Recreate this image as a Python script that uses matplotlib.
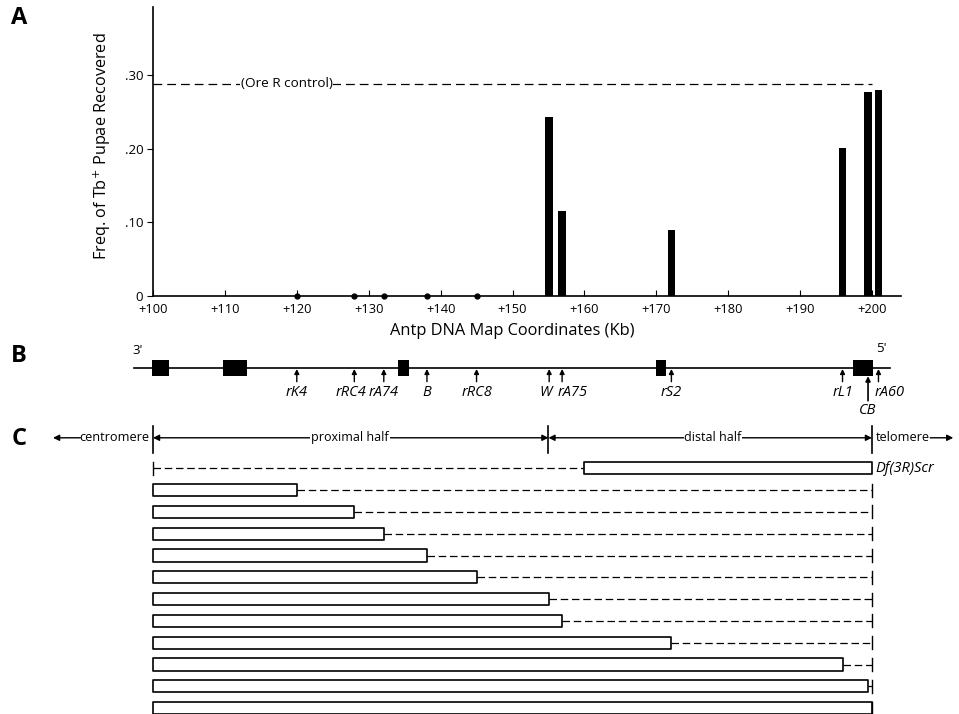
import matplotlib
matplotlib.use('Agg')
import matplotlib.pyplot as plt
import numpy as np

plt.rcParams['font.family'] = ['Open Sans', 'DejaVu Sans']

# breakpoint markers on the Antp map (kb) and Tb+ frequency for each
marker_names = ['rK4', 'rRC4', 'rA74', 'B', 'rRC8', 'W', 'rA75', 'rS2', 'rL1', 'CB', 'rA60']
marker_kb = [120, 128, 132.1, 138.1, 145, 155.1, 156.9, 172.1, 195.9, 199.45, 200.9]
freq = [0, 0, 0, 0, 0, 0.243, 0.115, 0.089, 0.201, 0.277, 0.279]
ore_r_control = 0.288

# exons on the map (start kb, length kb)
exons = [(99.8, 2.4), (109.8, 3.3), (134.1, 1.5), (170.0, 1.4), (197.3, 2.9)]

# deficiency rows: Df(3R)Scr deleted segment, then rows breaking at each marker
scr_deleted = (160, 200)
row_breaks = [min(k, 200) for k in marker_kb]

x_ticks = [100, 110, 120, 130, 140, 150, 160, 170, 180, 190, 200]
y_ticks = [0, 0.10, 0.20, 0.30]
y_ticklabels = ['0', '.10', '.20', '.30']

W, H = 959, 714
fig = plt.figure(figsize=(W / 100, H / 100), dpi=100)

px_per_kb = (872 - 153) / 100.0
x_left = 100 - 153 / px_per_kb
x_right = 100 + (W - 153) / px_per_kb

# ---------------- panel A ----------------
axA = fig.add_axes([153 / W, 1 - 296 / H, 748 / W, 289 / H])
axA.set_xlim(100, 100 + 748 / px_per_kb)
axA.set_ylim(0, 0.392)
for s in ['top', 'right']:
    axA.spines[s].set_visible(False)
axA.spines['left'].set_linewidth(1.2)
axA.spines['bottom'].set_linewidth(1.2)

kb = np.array(marker_kb)
fr = np.array(freq)
pos = fr > 0
axA.bar(kb[pos], fr[pos], width=1.05, color='black')
axA.plot(kb[~pos], fr[~pos], 'o', color='black', markersize=3.5, clip_on=False)

axA.plot([100, 200], [ore_r_control, ore_r_control], color='black', lw=0.9, dashes=(7, 4))
axA.text(118.6, ore_r_control, '(Ore R control)', ha='center', va='center', fontsize=9.7,
         bbox=dict(facecolor='white', edgecolor='none', pad=0.5))

axA.set_xticks(x_ticks)
axA.set_xticklabels(['+%d' % t for t in x_ticks], fontsize=9.3)
axA.tick_params(axis='x', direction='in', length=4, pad=5)
axA.set_yticks(y_ticks)
axA.set_yticklabels(y_ticklabels, fontsize=9.5)
axA.tick_params(axis='y', direction='out', length=4, pad=3)

axA.text(150, -0.12, 'Antp DNA Map Coordinates (Kb)', ha='center', va='center', fontsize=11.8,
         transform=matplotlib.transforms.blended_transform_factory(axA.transData, axA.transAxes))
axA.text(-0.068, 0.519, 'Freq. of Tb$^{+}$ Pupae Recovered', rotation=90, ha='center', va='center',
         fontsize=11.7, transform=axA.transAxes)

# ---------------- panel B ----------------
axB = fig.add_axes([0, 1 - 420 / H, 1, 85 / H])
axB.set_xlim(x_left, x_right)
axB.set_ylim(52.3, -32.7)
axB.axis('off')
axB.plot([97.3, 202.5], [0, 0], color='black', lw=1.2)
axB.broken_barh(exons, (-8, 16), facecolor='black')
label_shift = {'rRC4': -0.4, 'W': -0.5, 'rA75': 1.4, 'rA60': 1.6}
for name, x in zip(marker_names, marker_kb):
    lx = x + label_shift.get(name, 0)
    if name == 'CB':
        axB.annotate('', xy=(x, 8.5), xytext=(x, 33),
                     arrowprops=dict(arrowstyle='-|>', lw=1.2, mutation_scale=7, shrinkA=0, shrinkB=0, color='black'))
        axB.text(lx, 42.3, name, ha='center', va='center', fontsize=10.5, style='italic')
    else:
        axB.annotate('', xy=(x, 1.3), xytext=(x, 14),
                     arrowprops=dict(arrowstyle='-|>', lw=1, mutation_scale=7, shrinkA=0, shrinkB=0, color='black'))
        axB.text(lx, 25.3, name, ha='center', va='center', fontsize=10.5, style='italic')
axB.text(97.8, -17, "3'", ha='center', va='center', fontsize=9.5)
axB.text(201.25, -18.7, "5'", ha='center', va='center', fontsize=9.5)

# ---------------- panel C ----------------
axC = fig.add_axes([0, 0, 1, 294 / H])
axC.set_xlim(x_left, x_right)
axC.set_ylim(11.27, -2.216)
axC.axis('off')

hy = -1.4
arw = dict(lw=1, mutation_scale=9, shrinkA=0, shrinkB=0, color='black')
axC.annotate('', xy=(100, hy), xytext=(155, hy), arrowprops=dict(arrowstyle='<|-|>', **arw))
axC.annotate('', xy=(155, hy), xytext=(200, hy), arrowprops=dict(arrowstyle='<|-|>', **arw))
axC.annotate('', xy=(86.1, hy), xytext=(89.9, hy), arrowprops=dict(arrowstyle='-|>', **arw))
axC.annotate('', xy=(211.3, hy), xytext=(208.1, hy), arrowprops=dict(arrowstyle='-|>', **arw))
axC.text(94.6, hy, 'centromere', ha='center', va='center', fontsize=9.2)
axC.text(204.3, hy, 'telomere', ha='center', va='center', fontsize=9.2)
axC.text(127.4, hy, 'proximal half', ha='center', va='center', fontsize=9,
         bbox=dict(facecolor='white', edgecolor='none', pad=0.5))
axC.text(177.9, hy, 'distal half', ha='center', va='center', fontsize=9,
         bbox=dict(facecolor='white', edgecolor='none', pad=0.5))
for x in [100, 155, 200]:
    axC.plot([x, x], [-1.95, -0.71], color='black', lw=1.2)

bh = 0.56
dash = dict(color='black', lw=0.9, dashes=(6, 3))
# Df(3R)Scr
axC.plot([100, scr_deleted[0]], [0, 0], **dash)
axC.plot([100, 100], [-0.3, 0.3], color='black', lw=1)
axC.broken_barh([(scr_deleted[0], scr_deleted[1] - scr_deleted[0])], (-bh / 2, bh),
                facecolor='white', edgecolor='black', lw=1.2)
axC.text(200.5, 0, 'Df(3R)Scr', ha='left', va='center', fontsize=10.5, style='italic')

for i, bp in enumerate(row_breaks, start=1):
    if bp < 200:
        axC.plot([bp, 200], [i, i], **dash)
    axC.broken_barh([(100, bp - 100)], (i - bh / 2, bh), facecolor='white', edgecolor='black', lw=1.2)
    axC.plot([200, 200], [i - 0.3, i + 0.3], color='black', lw=1)

# panel letters
fig.text(19 / W, 1 - 18 / H, 'A', fontsize=17, fontweight='bold', ha='center', va='center')
fig.text(19 / W, 1 - 356 / H, 'B', fontsize=17, fontweight='bold', ha='center', va='center')
fig.text(19 / W, 1 - 439 / H, 'C', fontsize=17, fontweight='bold', ha='center', va='center')

fig.savefig('out.png', dpi=100)
